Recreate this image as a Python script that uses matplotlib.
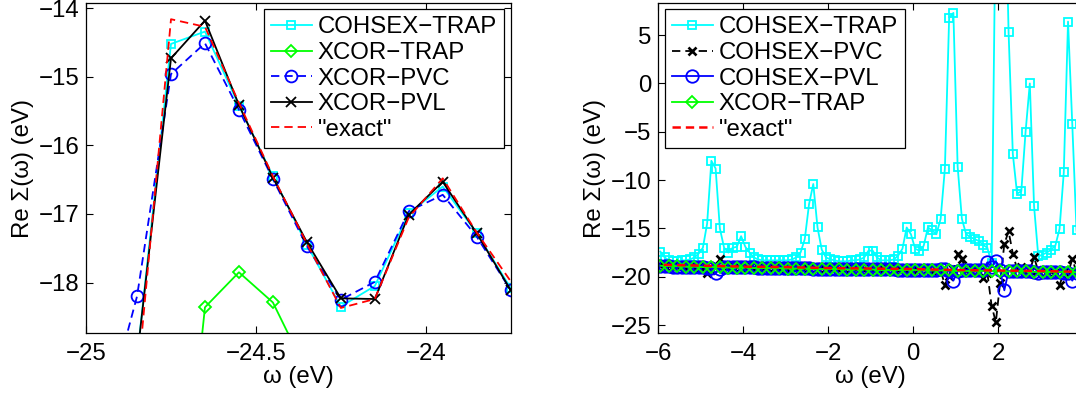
import matplotlib

matplotlib.use('Agg')
import matplotlib.pyplot as plt
import numpy as np

plt.rcParams['font.family'] = ['Liberation Sans', 'DejaVu Sans']
plt.rcParams['font.size'] = 17.3
plt.rcParams['lines.scale_dashes'] = False

# ---- left panel: zoom around -24.5 eV ----
w_left = [-24.95, -24.85, -24.75, -24.65, -24.55, -24.45, -24.35, -24.25,
          -24.15, -24.05, -23.95, -23.85, -23.75]
cohsex_trap_l = [-23.0, -19.1, -14.52, -14.34, -15.42, -16.45, -17.45, -18.35,
                 -18.05, -16.99, -16.60, -17.28, -18.08]
xcor_trap_l = [-26.0, -24.5, -23.1, -18.36, -17.85, -18.29, -19.3, -21.0,
               -22.0, -22.5, -22.8, -23.0, -23.2]
xcor_pvc_l = [-20.06, -18.20, -14.96, -14.51, -15.48, -16.49, -17.47, -18.25,
              -17.99, -16.96, -16.72, -17.33, -18.11]
xcor_pvl_l = [-23.0, -19.1, -14.73, -14.18, -15.41, -16.47, -17.41, -18.23,
              -18.24, -17.01, -16.53, -17.28, -18.11]
exact_l = [-23.5, -19.5, -14.16, -14.27, -15.38, -16.45, -17.43, -18.37,
           -18.24, -17.05, -16.48, -17.27, -17.98]

# ---- right panel: wide range ----
w_right = np.round(np.arange(-5.95, 4.0, 0.1), 2)
cohsex_trap_r = [
    -17.4, -18.0, -18.3, -18.4, -18.4, -18.3, -18.3, -18.2, -18.0, -17.6,
    -17.0, -14.5, -8.0, -8.8, -15.0, -17.0, -17.5, -17.0, -16.9, -15.8,
    -16.9, -17.5, -18.0, -18.2, -18.3, -18.3, -18.3, -18.3, -18.3, -18.3,
    -18.3, -18.2, -18.0, -17.5, -16.1, -12.5, -10.4, -14.9, -17.2, -18.0,
    -18.2, -18.3, -18.4, -18.4, -18.4, -18.3, -18.3, -18.2, -18.0, -17.3,
    -17.3, -18.0, -18.3, -18.3, -18.3, -18.2, -17.8, -17.1, -14.9, -15.6,
    -17.1, -17.3, -16.8, -14.9, -15.2, -15.6, -14.0, -8.8, 6.8, 7.3,
    -8.6, -14.0, -15.6, -15.9, -16.1, -16.3, -16.7, -17.0, -18.6, 19.8,
    30.0, 25.0, 5.3, -7.3, -11.4, -11.15, -5.0, 0.0, -12.7, -17.9,
    -17.7, -17.5, -17.2, -16.8, -15.05, -9.2, 6.4, -4.2, -15.2, -18.0,
]
cohsex_pvc_r = [
    -18.8, -18.9, -18.8, -19.0, -18.9, -18.9, -19.0, -18.9, -19.1, -19.0,
    -19.0, -19.6, -19.3, -18.9, -18.2, -18.8, -19.0, -19.0, -18.9, -19.1,
    -19.0, -18.9, -19.1, -19.0, -19.0, -19.1, -18.9, -19.0, -19.1, -19.0,
    -19.3, -19.0, -19.1, -18.9, -19.0, -19.1, -19.0, -19.2, -19.0, -19.1,
    -19.1, -19.0, -19.2, -19.1, -19.0, -19.2, -19.1, -19.0, -19.2, -19.1,
    -19.2, -19.1, -19.0, -19.2, -19.1, -19.3, -19.2, -19.1, -19.3, -19.2,
    -19.2, -19.3, -19.1, -19.2, -19.4, -19.2, -19.4, -20.8, -19.9, -19.2,
    -17.6, -18.2, -19.3, -19.4, -19.2, -19.5, -20.1, -19.6, -23.0, -24.7,
    -20.6, -16.6, -15.3, -17.6, -19.2, -19.0, -19.5, -19.3, -18.0, -19.4,
    -19.3, -19.5, -19.4, -19.6, -20.9, -19.5, -19.6, -18.2, -19.5, -19.6,
]
cohsex_pvl_r = [
    -18.9, -18.9, -18.9, -19.0, -19.0, -19.0, -19.0, -19.0, -19.0, -19.0,
    -19.0, -19.1, -19.1, -19.6, -19.2, -19.0, -19.0, -19.0, -19.0, -19.0,
    -19.0, -19.0, -19.0, -19.1, -19.1, -19.1, -19.1, -19.1, -19.1, -19.1,
    -19.1, -19.1, -19.1, -19.1, -19.1, -19.1, -19.2, -19.2, -19.2, -19.2,
    -19.2, -19.2, -19.2, -19.2, -19.2, -19.2, -19.2, -19.2, -19.2, -19.2,
    -19.2, -19.2, -19.2, -19.2, -19.2, -19.2, -19.3, -19.3, -19.3, -19.3,
    -19.3, -19.3, -19.3, -19.3, -19.3, -19.3, -19.2, -19.2, -19.4, -20.4,
    -19.4, -19.3, -19.3, -19.3, -19.3, -19.3, -19.3, -18.5, -19.0, -18.4,
    -19.3, -21.4, -19.4, -19.4, -19.4, -19.4, -19.4, -19.4, -19.5, -19.6,
    -19.5, -19.5, -19.5, -19.5, -19.5, -19.6, -19.6, -20.4, -19.6, -19.5,
]
w_right_coarse = np.round(np.arange(-5.95, 4.0, 0.2), 2)
xcor_trap_r = [
    -18.85, -18.9, -18.9, -18.95, -18.95, -19.0, -19.0, -19.0, -19.05, -19.05,
    -19.05, -19.1, -19.1, -19.1, -19.1, -19.15, -19.15, -19.15, -19.2, -19.2,
    -19.2, -19.2, -19.25, -19.25, -19.25, -19.25, -19.3, -19.3, -19.3, -19.3,
    -19.3, -19.35, -19.35, -19.35, -19.35, -19.4, -19.4, -19.4, -19.4, -19.4,
    -19.45, -19.45, -19.45, -19.45, -19.5, -19.5, -19.5, -19.5, -19.5, -19.55,
]
w_exact = [-6.5, -6, -5, -4, -3, -2, -1, 0, 1, 2, 3, 4, 4.5]
exact_r = [-18.7, -18.75, -18.85, -18.95, -19.0, -19.1, -19.15, -19.2, -19.3,
           -19.35, -19.4, -19.5, -19.55]

CYAN, GREEN, BLUE, RED = '#00FFFF', '#00FF00', '#0000FF', '#FF0000'
LW = 1.3
DASH = (6, 3.6)

fig = plt.figure(figsize=(10.76, 3.94), dpi=100)
ax1 = fig.add_axes([0.080, 0.154, 0.3946, 0.839])
ax2 = fig.add_axes([0.6118, 0.154, 0.3946, 0.839])

ax1.plot(w_left, cohsex_trap_l, '-', color=CYAN, lw=LW, marker='s', ms=6,
         mfc='none', mew=LW, label='COHSEX\u2212TRAP')
ax1.plot(w_left, xcor_trap_l, '-', color=GREEN, lw=LW, marker='D', ms=6.5,
         mfc='none', mew=LW, label='XCOR\u2212TRAP')
ax1.plot(w_left, xcor_pvc_l, '--', color=BLUE, lw=LW, dashes=DASH, marker='o',
         ms=8.5, mfc='none', mew=LW, label='XCOR\u2212PVC')
ax1.plot(w_left, xcor_pvl_l, '-', color='black', lw=LW, marker='x', ms=6.5,
         mew=LW, label='XCOR\u2212PVL')
ax1.plot(w_left, exact_l, '--', color=RED, lw=LW, dashes=DASH, label='"exact"')
ax1.set_xlim(-25, -23.75)
ax1.set_ylim(-18.74, -13.92)
ax1.set_xticks([-25, -24.5, -24])
ax1.set_xticklabels(['\u221225', '\u221224.5', '\u221224'])
ax1.set_yticks([-18, -17, -16, -15, -14])

ax2.plot(w_right, cohsex_trap_r, '-', color=CYAN, lw=LW, marker='s', ms=6,
         mfc='none', mew=LW, label='COHSEX\u2212TRAP')
ax2.plot(w_right, cohsex_pvc_r, '--', color='black', lw=LW, dashes=DASH,
         marker='x', ms=6, mew=LW + 0.6, label='COHSEX\u2212PVC')
ax2.plot(w_right, cohsex_pvl_r, '-', color=BLUE, lw=LW, marker='o', ms=9,
         mfc='none', mew=LW, label='COHSEX\u2212PVL')
ax2.plot(w_right_coarse, xcor_trap_r, '-', color=GREEN, lw=LW, marker='D',
         ms=6.5, mfc='none', mew=LW, label='XCOR\u2212TRAP')
ax2.plot(w_exact, exact_r, '--', color=RED, lw=LW + 0.5, dashes=DASH,
         label='"exact"')
ax2.set_xlim(-6, 4)
ax2.set_ylim(-25.85, 8.35)
ax2.set_xticks([-6, -4, -2, 0, 2])
ax2.set_yticks([-25, -20, -15, -10, -5, 0, 5])

for ax, loc in [(ax1, 'upper right'), (ax2, 'upper left')]:
    ax.tick_params(direction='in', top=True, right=True, length=5, width=0.8)
    ax.tick_params(axis='x', pad=7)
    ax.tick_params(axis='y', pad=5)
    for s in ax.spines.values():
        s.set_linewidth(0.9)
    ax.set_xlabel('\u03c9 (eV)', labelpad=1)
    ax.set_ylabel('Re \u03a3(\u03c9) (eV)', labelpad=3)
    leg = ax.legend(loc=loc, fancybox=False, edgecolor='black', framealpha=1,
                    handlelength=1.7, handletextpad=0.25, labelspacing=0.15,
                    borderpad=0.3, borderaxespad=0.27)
    leg.get_frame().set_linewidth(0.9)

plt.savefig('out.png', dpi=100)
plt.close()
